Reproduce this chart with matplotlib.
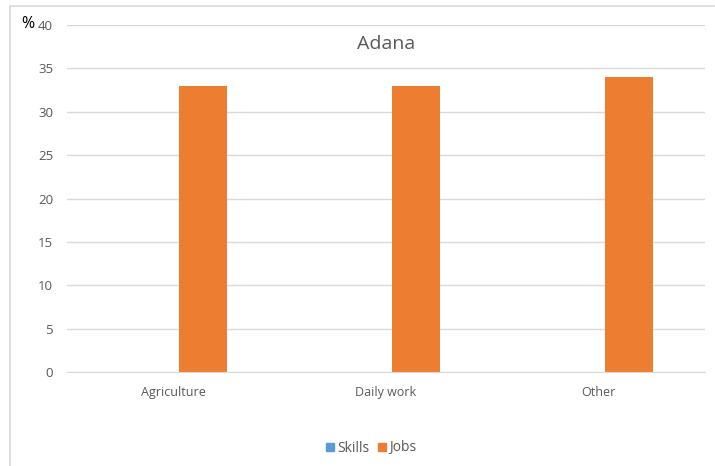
import matplotlib
matplotlib.use("Agg")
import matplotlib.pyplot as plt
from matplotlib.lines import Line2D
import numpy as np

categories = ["Agriculture", "Daily work", "Other"]
skills = [0, 0, 0]
jobs = [33, 33, 34]
series_names = ["Skills", "Jobs"]
y_ticks = [0, 5, 10, 15, 20, 25, 30, 35, 40]

W, H = 715, 466
fig = plt.figure(figsize=(W / 100, H / 100), dpi=100)
plt.rcParams["font.family"] = ["Open Sans", "DejaVu Sans"]

# plot area in pixel coordinates
left, right, top, bottom = 67, 705, 25, 372
ax = fig.add_axes([left / W, 1 - bottom / H, (right - left) / W, (bottom - top) / H])

x = np.arange(len(categories))
bw = 0.226
sep = 0.028  # small gap between the two series within a cluster
blue = "#5B9BD5"
orange = "#ED7D31"
ax.bar(x - bw / 2 - sep, skills, bw, color=blue, label=series_names[0])
ax.bar(x + bw / 2 + sep, jobs, bw, color=orange, label=series_names[1])

ax.set_xlim(-0.5, len(categories) - 0.5)
ax.set_ylim(0, 40)
ax.set_yticks(y_ticks)
ax.set_xticks(x)
ax.set_xticklabels(categories)
ax.yaxis.grid(True, color="#D9D9D9", linewidth=1)
ax.set_axisbelow(True)
for s in ["top", "right", "left"]:
    ax.spines[s].set_visible(False)
ax.spines["bottom"].set_color("#D9D9D9")
ax.tick_params(axis="both", length=0, colors="#595959", labelsize=9)
ax.tick_params(axis="y", pad=10, labelsize=9.5)
ax.tick_params(axis="x", pad=10)

fig.text(386 / W, 1 - 44 / H, "Adana", ha="center", va="center",
         fontsize=14, color="#595959")
fig.text(27.5 / W, 1 - 24 / H, "%", ha="center", va="center",
         fontsize=11.5, color="black")

handles = [Line2D([], [], marker="s", linestyle="none", markersize=6,
                  markerfacecolor=c, markeredgecolor=c) for c in (blue, orange)]
fig.legend(handles, series_names, loc="center", bbox_to_anchor=(371 / W, 1 - 448 / H),
           ncol=2, frameon=False, fontsize=10, labelcolor="#595959",
           handlelength=0.6, handletextpad=0.2, columnspacing=0.6)

# chart border
fig.add_artist(Line2D([9.5 / W, 9.5 / W], [0, 1 - 5.5 / H], color="#D9D9D9",
                      linewidth=1.2, transform=fig.transFigure))
fig.add_artist(Line2D([9.5 / W, 714 / W], [1 - 5.5 / H, 1 - 5.5 / H], color="#D9D9D9",
                      linewidth=1.2, transform=fig.transFigure))

fig.savefig("out.png", dpi=100)
